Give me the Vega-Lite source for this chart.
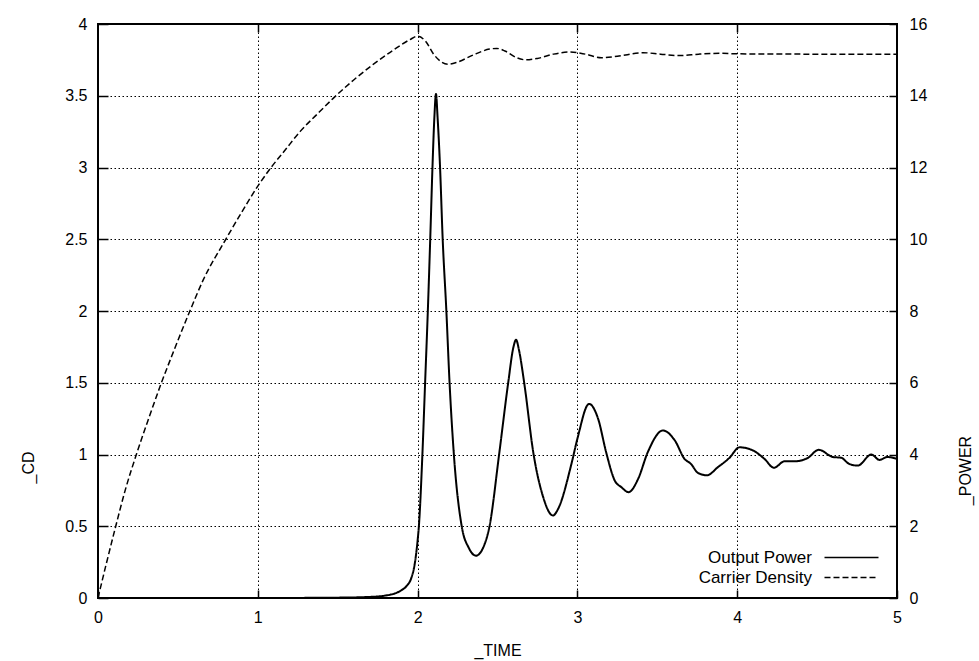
{
  "$schema": "https://vega.github.io/schema/vega-lite/v6.json",
  "width": 799,
  "height": 574,
  "autosize": "none",
  "padding": {"left": 98, "top": 24, "right": 82, "bottom": 63},
  "background": "white",
  "config": {
    "view": {"stroke": "black", "strokeWidth": 2},
    "font": "Liberation Sans",
    "axis": {
      "labelFont": "Liberation Sans", "labelFontSize": 16, "labelColor": "black",
      "titleFont": "Liberation Sans", "titleFontSize": 16, "titleFontWeight": "normal", "titleColor": "black",
      "domain": false, "tickColor": "black", "tickWidth": 1.5,
      "gridColor": "black", "gridDash": [1.5, 2.5], "gridWidth": 1, "gridOpacity": 1
    },
    "legend": {
      "labelFont": "Liberation Sans", "labelFontSize": 17, "labelColor": "black"
    }
  },
  "datasets": {
    "cd": [
      {"t": 0, "cd": 0}, {"t": 0.05, "cd": 0.23}, {"t": 0.111, "cd": 0.5}, {"t": 0.17, "cd": 0.75},
      {"t": 0.24, "cd": 1.0}, {"t": 0.32, "cd": 1.26}, {"t": 0.397, "cd": 1.5}, {"t": 0.47, "cd": 1.71},
      {"t": 0.575, "cd": 2.0}, {"t": 0.66, "cd": 2.22}, {"t": 0.8, "cd": 2.5}, {"t": 0.9, "cd": 2.69},
      {"t": 1.0, "cd": 2.87}, {"t": 1.083, "cd": 3.0}, {"t": 1.17, "cd": 3.12}, {"t": 1.264, "cd": 3.25},
      {"t": 1.37, "cd": 3.37}, {"t": 1.47, "cd": 3.48}, {"t": 1.6, "cd": 3.61}, {"t": 1.724, "cd": 3.72},
      {"t": 1.85, "cd": 3.82}, {"t": 1.95, "cd": 3.89}, {"t": 2.0, "cd": 3.915}, {"t": 2.05, "cd": 3.88},
      {"t": 2.1, "cd": 3.79}, {"t": 2.15, "cd": 3.735}, {"t": 2.19, "cd": 3.72}, {"t": 2.25, "cd": 3.735},
      {"t": 2.35, "cd": 3.785}, {"t": 2.45, "cd": 3.825}, {"t": 2.495, "cd": 3.83}, {"t": 2.55, "cd": 3.81},
      {"t": 2.62, "cd": 3.765}, {"t": 2.68, "cd": 3.75}, {"t": 2.75, "cd": 3.76}, {"t": 2.85, "cd": 3.79},
      {"t": 2.95, "cd": 3.805}, {"t": 3.05, "cd": 3.79}, {"t": 3.15, "cd": 3.765}, {"t": 3.25, "cd": 3.775},
      {"t": 3.41, "cd": 3.8}, {"t": 3.52, "cd": 3.79}, {"t": 3.64, "cd": 3.78}, {"t": 3.76, "cd": 3.79},
      {"t": 3.89, "cd": 3.796}, {"t": 4.0, "cd": 3.792}, {"t": 4.5, "cd": 3.79}, {"t": 5.0, "cd": 3.79}
    ],
    "power": [
      {"t": 0, "p": 0}, {"t": 1.0, "p": 0.0}, {"t": 1.5, "p": 0.01}, {"t": 1.7, "p": 0.03},
      {"t": 1.8, "p": 0.07}, {"t": 1.86, "p": 0.13}, {"t": 1.9, "p": 0.22}, {"t": 1.93, "p": 0.33},
      {"t": 1.96, "p": 0.55}, {"t": 1.98, "p": 0.9}, {"t": 2.0, "p": 1.6}, {"t": 2.008, "p": 2.0},
      {"t": 2.03, "p": 4.0}, {"t": 2.047, "p": 6.0}, {"t": 2.064, "p": 8.0}, {"t": 2.079, "p": 10.0},
      {"t": 2.093, "p": 12.0}, {"t": 2.105, "p": 13.4}, {"t": 2.115, "p": 14.05}, {"t": 2.125, "p": 13.4},
      {"t": 2.14, "p": 12.06}, {"t": 2.157, "p": 10.0}, {"t": 2.18, "p": 8.0}, {"t": 2.2, "p": 6.0},
      {"t": 2.227, "p": 4.0}, {"t": 2.276, "p": 2.0}, {"t": 2.32, "p": 1.4}, {"t": 2.365, "p": 1.18},
      {"t": 2.41, "p": 1.4}, {"t": 2.45, "p": 2.0}, {"t": 2.51, "p": 4.0}, {"t": 2.567, "p": 6.0},
      {"t": 2.6, "p": 7.0}, {"t": 2.616, "p": 7.2}, {"t": 2.635, "p": 6.9}, {"t": 2.667, "p": 6.0},
      {"t": 2.726, "p": 4.0}, {"t": 2.78, "p": 2.9}, {"t": 2.847, "p": 2.3}, {"t": 2.88, "p": 2.49},
      {"t": 2.96, "p": 3.69}, {"t": 3.0, "p": 4.44}, {"t": 3.073, "p": 5.41}, {"t": 3.13, "p": 4.99},
      {"t": 3.18, "p": 4.06}, {"t": 3.233, "p": 3.28}, {"t": 3.275, "p": 3.09}, {"t": 3.32, "p": 2.95},
      {"t": 3.38, "p": 3.32}, {"t": 3.44, "p": 4.06}, {"t": 3.535, "p": 4.67}, {"t": 3.61, "p": 4.39},
      {"t": 3.67, "p": 3.88}, {"t": 3.71, "p": 3.74}, {"t": 3.754, "p": 3.49}, {"t": 3.81, "p": 3.42},
      {"t": 3.88, "p": 3.65}, {"t": 3.95, "p": 3.9}, {"t": 4.015, "p": 4.2}, {"t": 4.1, "p": 4.11},
      {"t": 4.17, "p": 3.88}, {"t": 4.23, "p": 3.63}, {"t": 4.296, "p": 3.81}, {"t": 4.358, "p": 3.81},
      {"t": 4.44, "p": 3.9}, {"t": 4.51, "p": 4.13}, {"t": 4.6, "p": 3.93}, {"t": 4.65, "p": 3.91},
      {"t": 4.7, "p": 3.74}, {"t": 4.754, "p": 3.69}, {"t": 4.84, "p": 4.0}, {"t": 4.89, "p": 3.85},
      {"t": 4.94, "p": 3.93}, {"t": 5.0, "p": 3.88}
    ]
  },
  "layer": [
    {
      "data": {"name": "cd"},
      "mark": {"type": "line", "color": "black", "strokeWidth": 1.5, "interpolate": "monotone"},
      "encoding": {
        "x": {
          "field": "t", "type": "quantitative",
          "scale": {"domain": [0, 5], "nice": false},
          "axis": {"orient": "bottom", "title": "_TIME", "values": [0, 1, 2, 3, 4, 5], "grid": true, "format": "~g",
                   "offset": -8, "tickSize": 8, "labelPadding": 11, "labelFlush": false,
                   "titleY": 60, "titleBaseline": "middle", "titleColor": "black"}
        },
        "y": {
          "field": "cd", "type": "quantitative",
          "scale": {"domain": [0, 4], "nice": false},
          "axis": {"orient": "left", "title": "_CD", "values": [0, 0.5, 1, 1.5, 2, 2.5, 3, 3.5, 4], "grid": true, "format": "~g",
                   "offset": -10, "tickSize": 10, "labelPadding": 11, "labelFlush": false,
                   "titleX": -80, "titleY": 443, "titleAngle": -90, "titleAlign": "center", "titleBaseline": "middle", "titleColor": "black"}
        },
        "strokeDash": {
          "datum": "Carrier Density", "type": "nominal",
          "scale": {"domain": ["Output Power", "Carrier Density"], "range": [[1, 0], [6, 3]]},
          "legend": {
            "title": null, "orient": "none", "legendX": 745, "legendY": 525,
            "symbolType": "M-5.4,0H5.4", "symbolSize": 100, "symbolStrokeColor": "black", "symbolFillColor": "transparent", "symbolStrokeWidth": 1.5,
            "rowPadding": 2, "padding": 0,
            "labelAlign": "right", "labelOffset": -48
          }
        }
      }
    },
    {
      "data": {"name": "power"},
      "mark": {"type": "line", "color": "black", "strokeWidth": 2, "interpolate": "monotone"},
      "encoding": {
        "x": {
          "field": "t", "type": "quantitative",
          "axis": {"orient": "top", "labels": false, "title": null, "grid": false, "values": [1, 2, 3, 4],
                   "offset": -8, "tickSize": 8}
        },
        "y": {
          "field": "p", "type": "quantitative",
          "scale": {"domain": [0, 16], "nice": false},
          "axis": {"orient": "right", "title": "_POWER", "values": [0, 2, 4, 6, 8, 10, 12, 14, 16], "grid": false, "format": "~g",
                   "offset": -8, "tickSize": 8, "labelPadding": 12, "labelFlush": false,
                   "titleX": 76, "titleY": 446, "titleAngle": -90, "titleAlign": "center", "titleBaseline": "middle", "titleColor": "black"}
        },
        "strokeDash": {"datum": "Output Power", "type": "nominal"}
      }
    }
  ],
  "resolve": {"scale": {"y": "independent"}, "axis": {"x": "independent"}}
}
